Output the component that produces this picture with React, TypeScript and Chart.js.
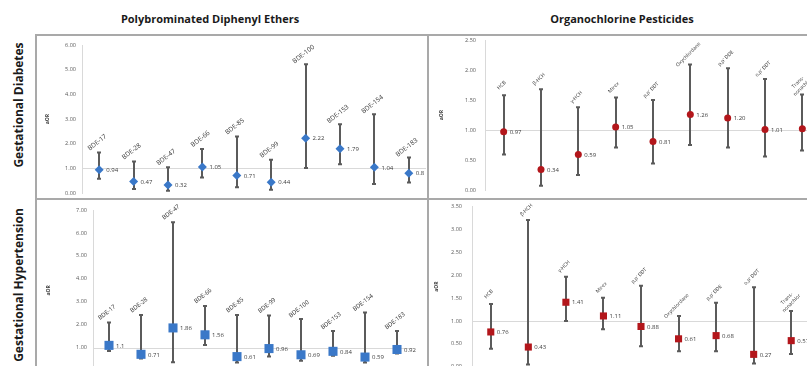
import React, { useEffect, useRef } from 'react';
import { Chart, registerables } from 'chart.js';
Chart.register(...registerables);

// ---------- data ----------
const pbdeCategories = ['BDE-17', 'BDE-28', 'BDE-47', 'BDE-66', 'BDE-85', 'BDE-99', 'BDE-100', 'BDE-153', 'BDE-154', 'BDE-183'];
const ocpCategories: (string | string[])[] = ['HCB', 'β-HCH', 'γ-HCH', 'Mirex', "p,p' DDT", 'Oxychlordane', "p,p' DDE", "o,p' DDT", ['Trans-', 'nonachlor']];

const pbdeDiabetesOR = [0.94, 0.47, 0.32, 1.05, 0.71, 0.44, 2.22, 1.79, 1.04, 0.8];
const pbdeDiabetesLower = [0.58, 0.16, 0.09, 0.63, 0.23, 0.13, 1.01, 1.17, 0.36, 0.43];
const pbdeDiabetesUpper = [1.64, 1.28, 1.04, 1.78, 2.29, 1.35, 5.22, 2.79, 3.19, 1.44];

const ocpDiabetesOR = [0.97, 0.34, 0.59, 1.05, 0.81, 1.26, 1.2, 1.01, 1.02];
const ocpDiabetesLower = [0.59, 0.07, 0.25, 0.71, 0.44, 0.75, 0.71, 0.56, 0.66];
const ocpDiabetesUpper = [1.58, 1.68, 1.38, 1.54, 1.5, 2.09, 2.03, 1.85, 1.59];

const pbdeHypertensionOR = [1.1, 0.71, 1.86, 1.56, 0.61, 0.96, 0.69, 0.84, 0.59, 0.92];
const pbdeHypertensionLower = [0.85, 0.53, 0.36, 1.12, 0.35, 0.61, 0.43, 0.65, 0.35, 0.75];
const pbdeHypertensionUpper = [2.1, 2.42, 6.47, 2.82, 2.42, 2.4, 2.25, 1.73, 2.53, 1.73];

const ocpHypertensionOR = [0.76, 0.43, 1.41, 1.11, 0.88, 0.61, 0.68, 0.27, 0.57];
const ocpHypertensionLower = [0.39, 0.05, 1.0, 0.82, 0.45, 0.34, 0.34, 0.07, 0.28];
const ocpHypertensionUpper = [1.37, 3.21, 1.97, 1.51, 1.77, 1.11, 1.4, 1.74, 1.22];

const diabetesYMax = { pbde: 6, ocp: 2.5 };
const hypertensionYMax = { pbde: 7, ocp: 3.5 };

const columnTitles = ['Polybrominated Diphenyl Ethers', 'Organochlorine Pesticides'];
const rowTitles = ['Gestational Diabetes', 'Gestational Hypertension'];
const axisTitle = 'aOR';

// ---------- styling ----------
const BLUE = '#3a78c8';
const RED = '#b3161b';
const FONT = '"Open Sans", "Liberation Sans", Arial, sans-serif';

type PanelCfg = {
  left: number; top: number; width: number; height: number;
  axisWidth: number;
  pad: { top: number; right: number; bottom: number; left: number };
  titlePad: number; tickPad: number;
  categories: (string | string[])[];
  values: number[]; lower: number[]; upper: number[];
  yMax: number; yStep: number;
  color: string; pointStyle: string; radius: number; half: number;
  fmt: (v: number) => string;
  catFont: number; catAngle: number;
};

function makeDecor(cfg: PanelCfg) {
  return {
    id: 'decor',
    beforeDatasetsDraw(chart: any) {
      const { ctx, chartArea } = chart;
      const xs = chart.scales.x;
      const ys = chart.scales.y;
      ctx.save();
      // reference line at aOR = 1
      ctx.strokeStyle = '#d9d9d9';
      ctx.lineWidth = 1;
      const y1 = Math.round(ys.getPixelForValue(1)) + 0.5;
      ctx.beginPath();
      ctx.moveTo(chartArea.left, y1);
      ctx.lineTo(chartArea.right, y1);
      ctx.stroke();
      // confidence intervals
      ctx.strokeStyle = '#5b5b5b';
      ctx.lineWidth = 2;
      cfg.lower.forEach((lo, i) => {
        const px = Math.round(xs.getPixelForValue(i));
        const pl = ys.getPixelForValue(lo);
        const pu = ys.getPixelForValue(cfg.upper[i]);
        ctx.beginPath();
        ctx.moveTo(px, pl);
        ctx.lineTo(px, pu);
        ctx.stroke();
        ctx.beginPath();
        ctx.moveTo(px - 2, pl);
        ctx.lineTo(px + 2, pl);
        ctx.moveTo(px - 2, pu);
        ctx.lineTo(px + 2, pu);
        ctx.stroke();
      });
      ctx.restore();
    },
    afterDatasetsDraw(chart: any) {
      const { ctx } = chart;
      const xs = chart.scales.x;
      const ys = chart.scales.y;
      ctx.save();
      // value labels
      ctx.fillStyle = '#404040';
      ctx.font = `6px ${FONT}`;
      ctx.textAlign = 'left';
      ctx.textBaseline = 'middle';
      cfg.values.forEach((v, i) => {
        const px = xs.getPixelForValue(i);
        const py = ys.getPixelForValue(v);
        ctx.fillText(cfg.fmt(v), px + cfg.half + 2.5, py + 0.5);
      });
      // category labels above the upper limit
      ctx.fillStyle = '#333333';
      ctx.font = `${cfg.catFont}px ${FONT}`;
      ctx.textAlign = 'center';
      cfg.categories.forEach((cat, i) => {
        const px = xs.getPixelForValue(i);
        const pu = ys.getPixelForValue(cfg.upper[i]);
        const lines = Array.isArray(cat) ? cat : [cat];
        ctx.save();
        ctx.translate(px - 2, pu - 10);
        ctx.rotate((-cfg.catAngle * Math.PI) / 180);
        lines.forEach((ln, j) => {
          ctx.fillText(ln, 0, (j - (lines.length - 1) / 2) * (cfg.catFont + 1.5));
        });
        ctx.restore();
      });
      ctx.restore();
    },
  };
}

function Panel({ cfg }: { cfg: PanelCfg }) {
  const ref = useRef<HTMLCanvasElement>(null);
  useEffect(() => {
    const chart = new Chart(ref.current as HTMLCanvasElement, {
      type: 'line',
      data: {
        labels: cfg.categories.map((c) => (Array.isArray(c) ? c.join(' ') : c)),
        datasets: [
          {
            data: cfg.values,
            showLine: false,
            clip: false,
            pointStyle: cfg.pointStyle as any,
            pointRadius: cfg.radius,
            pointBackgroundColor: cfg.color,
            pointBorderColor: cfg.color,
            pointBorderWidth: 0,
          },
        ],
      },
      options: {
        responsive: false,
        animation: false,
        events: [],
        layout: { padding: cfg.pad, autoPadding: false },
        plugins: { legend: { display: false }, tooltip: { enabled: false } },
        scales: {
          x: { type: 'category', display: false, offset: true },
          y: {
            min: 0,
            max: cfg.yMax,
            afterFit: (s: any) => {
              s.width = cfg.axisWidth;
              s.paddingTop = 0;
              s.paddingBottom = 0;
            },
            grid: { display: false, drawTicks: false },
            border: { display: true, color: '#d9d9d9', width: 1 },
            ticks: {
              stepSize: cfg.yStep,
              padding: cfg.tickPad,
              color: '#595959',
              font: { size: 5.5, family: FONT },
              callback: (v: any) => Number(v).toFixed(2),
            },
            title: {
              display: true,
              text: axisTitle,
              color: '#404040',
              font: { size: 5, weight: 'bold', family: FONT },
              padding: { top: cfg.titlePad, bottom: 0 },
            },
          },
        },
      },
      plugins: [makeDecor(cfg)],
    } as any);
    return () => chart.destroy();
  }, []);
  return (
    <canvas
      ref={ref}
      width={cfg.width}
      height={cfg.height}
      style={{ position: 'absolute', left: cfg.left, top: cfg.top, width: cfg.width, height: cfg.height }}
    />
  );
}

const fmtGeneral = (v: number) => String(v);
const fmtFixed = (v: number) => v.toFixed(2);

const panels: PanelCfg[] = [
  {
    left: 36, top: 36, width: 390, height: 162, axisWidth: 46,
    pad: { top: 9, right: 0, bottom: 5, left: 0 }, titlePad: 9, tickPad: 6,
    categories: pbdeCategories, values: pbdeDiabetesOR, lower: pbdeDiabetesLower, upper: pbdeDiabetesUpper,
    yMax: diabetesYMax.pbde, yStep: 1, color: BLUE, pointStyle: 'rectRot', radius: 4.5, half: 4.5,
    fmt: fmtGeneral, catFont: 6.5, catAngle: 38,
  },
  {
    left: 429, top: 36, width: 392, height: 162, axisWidth: 56,
    pad: { top: 4, right: 0, bottom: 8, left: 0 }, titlePad: 10, tickPad: 9,
    categories: ocpCategories, values: ocpDiabetesOR, lower: ocpDiabetesLower, upper: ocpDiabetesUpper,
    yMax: diabetesYMax.ocp, yStep: 0.5, color: RED, pointStyle: 'circle', radius: 3.5, half: 3.5,
    fmt: fmtFixed, catFont: 5, catAngle: 45,
  },
  {
    left: 36, top: 200, width: 392, height: 180, axisWidth: 57,
    pad: { top: 10, right: 15, bottom: 9.4, left: 0 }, titlePad: 10, tickPad: 6,
    categories: pbdeCategories, values: pbdeHypertensionOR, lower: pbdeHypertensionLower, upper: pbdeHypertensionUpper,
    yMax: hypertensionYMax.pbde, yStep: 1, color: BLUE, pointStyle: 'rect', radius: 6.4, half: 4.5,
    fmt: fmtGeneral, catFont: 6, catAngle: 38,
  },
  {
    left: 429, top: 200, width: 381, height: 176, axisWidth: 43,
    pad: { top: 6.7, right: 0, bottom: 9.3, left: 0 }, titlePad: 5, tickPad: 10,
    categories: ocpCategories, values: ocpHypertensionOR, lower: ocpHypertensionLower, upper: ocpHypertensionUpper,
    yMax: hypertensionYMax.ocp, yStep: 0.5, color: RED, pointStyle: 'rect', radius: 5, half: 3.5,
    fmt: fmtFixed, catFont: 5, catAngle: 45,
  },
];

const lineColor = '#a9a9a9';

export default function App() {
  return (
    <div
      style={{
        position: 'fixed', left: 0, top: 0, width: 807, height: 366, overflow: 'hidden',
        background: '#ffffff', fontFamily: FONT,
      }}
    >
      {/* frame */}
      <div style={{ position: 'absolute', left: 35, top: 34, width: 772, height: 2, background: lineColor }} />
      <div style={{ position: 'absolute', left: 35, top: 34, width: 2, height: 332, background: lineColor }} />
      <div style={{ position: 'absolute', left: 427, top: 34, width: 2, height: 332, background: lineColor }} />
      <div style={{ position: 'absolute', left: 35, top: 198, width: 772, height: 2, background: lineColor }} />

      {/* column titles */}
      {[210, 622].map((cx, i) => (
        <div
          key={'c' + i}
          style={{
            position: 'absolute', left: cx, top: 18, transform: 'translate(-50%, -50%)',
            whiteSpace: 'nowrap', fontWeight: 700, fontSize: 11, color: '#1a1a1a',
          }}
        >
          {columnTitles[i]}
        </div>
      ))}

      {/* row titles */}
      {[105, 285].map((cy, i) => (
        <div
          key={'r' + i}
          style={{
            position: 'absolute', left: 18, top: cy, transform: 'translate(-50%, -50%) rotate(-90deg)',
            whiteSpace: 'nowrap', fontWeight: 700, fontSize: 12, color: '#1a1a1a',
          }}
        >
          {rowTitles[i]}
        </div>
      ))}

      {panels.map((p, i) => (
        <Panel key={i} cfg={p} />
      ))}
    </div>
  );
}
